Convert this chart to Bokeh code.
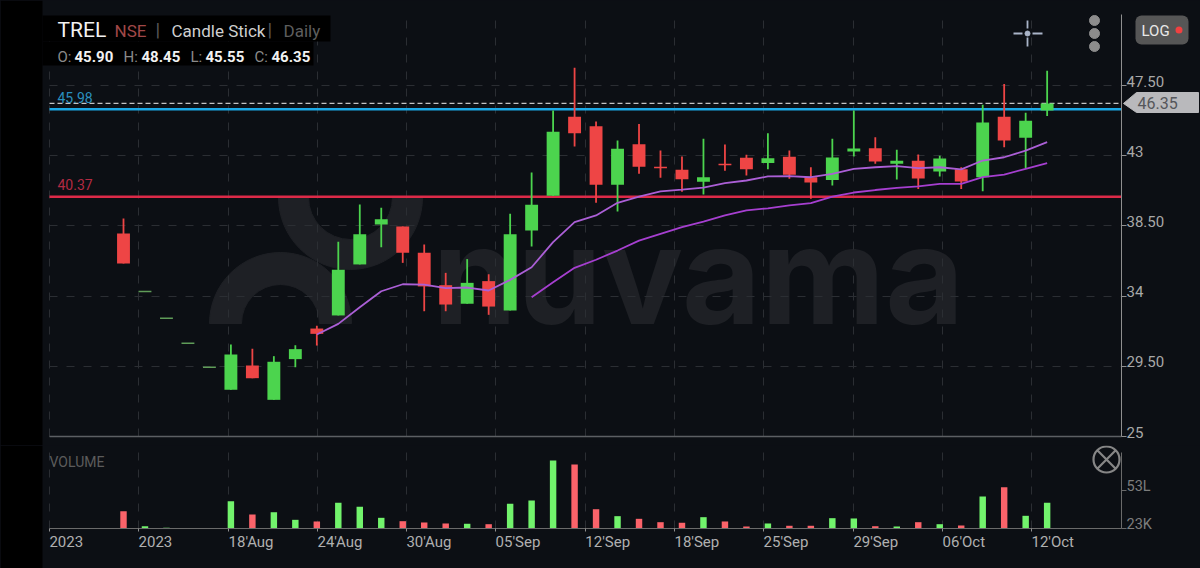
from bokeh.embed import file_html
from bokeh.layouts import column
from bokeh.models import BoxAnnotation, ColumnDataSource, FixedTicker, Label, Range1d
from bokeh.plotting import figure
from bokeh.resources import INLINE

opens = [38.01, 34.29, 32.58, 30.98, 29.44, 27.99, 29.55, 27.35, 29.96, 31.92, 32.76, 36.03, 38.59, 38.46, 36.78,
         34.70, 33.51, 34.96, 33.08, 38.21, 40.43, 45.49, 44.89, 41.13, 43.74, 42.29, 42.10, 41.33, 42.48, 42.87,
         42.54, 42.93, 41.62, 41.45, 43.27, 43.48, 42.48, 42.67, 41.99, 42.13, 41.62, 45.49, 44.15, 45.90]
highs = [38.97, 34.29, 32.58, 30.98, 29.44, 30.90, 30.62, 30.15, 30.85, 32.10, 37.48, 39.87, 39.66, 38.46, 37.31,
         35.49, 36.37, 35.40, 39.28, 41.92, 45.90, 48.63, 45.19, 43.97, 45.04, 43.33, 42.95, 44.08, 43.72, 43.06,
         44.44, 43.33, 42.26, 44.08, 45.90, 44.19, 43.38, 43.08, 42.99, 42.26, 46.26, 47.60, 45.75, 48.45]
lows = [36.09, 34.29, 32.58, 30.98, 29.44, 27.99, 28.74, 27.35, 29.44, 30.83, 32.76, 36.03, 37.13, 36.13, 33.03,
        33.03, 33.51, 32.80, 33.08, 37.18, 40.43, 43.59, 39.98, 39.42, 41.84, 41.58, 40.69, 40.51, 42.03, 41.73,
        42.13, 41.52, 40.24, 41.09, 42.95, 42.48, 41.47, 40.87, 41.67, 40.87, 40.72, 43.54, 42.21, 45.55]
closes = [36.09, 34.29, 32.58, 30.98, 29.44, 30.26, 28.74, 29.79, 30.60, 31.58, 35.69, 37.97, 38.93, 36.78, 34.62,
          33.46, 34.85, 33.33, 37.97, 39.85, 44.53, 44.44, 41.13, 43.44, 42.29, 42.20, 41.49, 41.62, 42.39, 42.13,
          42.84, 41.78, 41.28, 42.88, 43.46, 42.63, 42.67, 41.54, 42.82, 41.35, 45.13, 43.97, 45.24, 46.35]
# volume in lakhs
volumes = [24.1, 3.2, 1.0, 0, 0, 38.1, 19.5, 22.7, 12.1, 9.8, 35.8, 30.3, 14.9, 10.2, 8.4, 7.0, 6.6, 6.0, 34.5, 39.1,
           94.8, 89.3, 26.9, 17.2, 13.5, 8.8, 8.0, 15.8, 9.8, 2.8, 7.0, 3.8, 3.8, 14.4, 14.0, 3.2, 2.8, 8.8, 6.0, 4.2,
           44.6, 57.6, 17.7, 35.8]

ma_fast = [31.54, 32.22, 33.29, 34.31, 34.76, 34.74, 34.51, 34.55, 34.36, 35.04, 35.85, 37.46, 38.74, 39.17, 39.98,
           40.38, 40.71, 40.83, 40.96, 41.24, 41.41, 41.67, 41.69, 41.62, 41.84, 42.16, 42.26, 42.33, 42.20, 42.26,
           42.12, 42.69, 42.90, 43.33, 43.87]
ma_slow = [33.93, 34.89, 35.81, 36.33, 36.92, 37.56, 37.99, 38.42, 38.78, 39.17, 39.49, 39.63, 39.81, 39.96, 40.38,
           40.64, 40.80, 40.94, 41.03, 41.20, 41.20, 41.62, 41.79, 42.16, 42.52]

date_ticks = [-3.45, 0.70, 4.89, 9.03, 13.17, 17.32, 21.50, 25.65, 29.80, 33.98, 38.13, 42.27]
date_labels = ["2023", "2023", "18'Aug", "24'Aug", "30'Aug", "05'Sep", "12'Sep", "18'Sep", "25'Sep", "29'Sep",
               "06'Oct", "12'Oct"]
price_ticks = [25, 29.5, 34, 38.5, 43, 47.5]
price_labels = ["25", "29.50", "34", "38.50", "43", "47.50"]
volume_ticks = [0, 53]
volume_labels = ["23K", "53L"]
support = 40.37
resistance = 45.98
last_close = 46.35

BG = "#0c0f14"
GREEN = "#4cd44e"
RED = "#ee4545"
GRID = "#2b2e33"
FONT = "Roboto"
SPLIT = 445

days = list(range(len(closes)))


# pixel positions of the picture, for the logo and the icons only
def day_at(px):
    return (px - 123) / 21.48


def price_at(py):
    return 25 + (436 - py) / 15.6


def vol_at(py):
    return (528 - py) * 53 / 38


LEFT = day_at(49)
RIGHT = day_at(1121)
x_range = Range1d(day_at(0), day_at(1200))


def text(fig, s, x, y, size, color, style="normal", y_offset=0):
    fig.add_layout(Label(x=x, y=y, y_offset=y_offset, text=s, text_font=FONT, text_font_size=size, text_color=color,
                         text_font_style=style, text_baseline="middle", level="overlay"))


def box(fig, left, right, top, bottom, color, radius=0):
    fig.add_layout(BoxAnnotation(left=left, right=right, top=top, bottom=bottom, left_units="canvas",
                                 right_units="canvas", top_units="canvas", bottom_units="canvas", fill_color=color,
                                 fill_alpha=1, line_alpha=0, border_radius=radius, level="overlay"))


p = figure(width=1200, height=SPLIT, x_range=x_range, y_range=Range1d(price_at(SPLIT), price_at(0)), x_axis_location=None,
           y_axis_location="right", output_backend="svg", toolbar_location=None, min_border=0,
           background_fill_color=BG, border_fill_color=BG, outline_line_color=None)

# watermark
p.annular_wedge(x=[day_at(280)], y=[price_at(323)], inner_radius=39, outer_radius=71, inner_radius_units="screen",
                outer_radius_units="screen", start_angle=0, end_angle=3.1416, color="#1e2025", level="image")
p.annular_wedge(x=[day_at(350)], y=[price_at(197)], inner_radius=42, outer_radius=72, inner_radius_units="screen",
                outer_radius_units="screen", start_angle=3.1416, end_angle=6.2832, color="#1e2025", level="image")
p.add_layout(Label(x=day_at(432), y=price_at(274), text="nuvama", text_font="Inter", text_font_size="136px",
                   text_font_style="bold", text_color="#1e2025", text_baseline="alphabetic", level="image"))

p.ygrid.ticker = FixedTicker(ticks=price_ticks)
p.ygrid.grid_line_color = GRID
p.ygrid.grid_line_dash = "8 9"
p.ygrid.cross_bounds = (LEFT, RIGHT)
p.xgrid.ticker = FixedTicker(ticks=date_ticks)
p.xgrid.grid_line_color = GRID
p.xgrid.grid_line_dash = "8 9"
p.xgrid.cross_bounds = (25, price_at(14))

p.segment([LEFT], [25], [RIGHT], [25], color="#5c5f63", line_width=1.5)
p.segment([LEFT], [last_close], [RIGHT], [last_close], color="#c4c4c4", line_width=1.3, line_dash="5 3")
p.segment([LEFT], [resistance], [RIGHT], [resistance], color="#1ba9e6", line_width=2.5)
p.segment([LEFT], [support], [RIGHT], [support], color="#dd2a48", line_width=2.5)

moving = [i for i in days if opens[i] != closes[i]]
flat = [i for i in days if opens[i] == closes[i]]
source = ColumnDataSource(dict(
    x=moving,
    open=[opens[i] for i in moving],
    close=[closes[i] for i in moving],
    high=[highs[i] for i in moving],
    low=[lows[i] for i in moving],
    color=[GREEN if closes[i] > opens[i] else RED for i in moving],
))
p.segment("x", "high", "x", "low", color="color", line_width=1.8, source=source)
p.vbar(x="x", width=0.6, top="open", bottom="close", fill_color="color", line_color=None, source=source)
p.segment([i - 0.3 for i in flat], [closes[i] for i in flat], [i + 0.3 for i in flat], [closes[i] for i in flat],
          color="#5f9c58", line_width=1.5)

p.line(list(range(9, 44)), ma_fast, color="#ab5fd6", line_width=1.8)
p.line(list(range(19, 44)), ma_slow, color="#a63fd0", line_width=1.8)

# menu dots and crosshair icon
p.scatter([day_at(1094)] * 3, [price_at(20), price_at(33), price_at(46)], size=10, color="#8c8c8c")
p.segment([day_at(1013), day_at(1032), day_at(1027), day_at(1027)], [price_at(33), price_at(33), price_at(20), price_at(37)],
          [day_at(1022), day_at(1042), day_at(1027), day_at(1027)], [price_at(33), price_at(33), price_at(28), price_at(46)],
          color="#a9b4c8", line_width=1.8)
p.scatter([day_at(1027)], [price_at(33)], size=5, color="#a9b4c8")

p.yaxis.fixed_location = RIGHT
p.yaxis.bounds = (25, price_at(14))
p.yaxis.ticker = FixedTicker(ticks=price_ticks)
p.yaxis.major_label_overrides = {t: "" for t in price_ticks}
p.yaxis.axis_line_color = "#8f8f8f"
p.yaxis.major_tick_line_color = "#8f8f8f"
p.yaxis.major_tick_in = 0
p.yaxis.major_tick_out = 5
p.yaxis.minor_tick_line_color = None
for t, s in zip(price_ticks, price_labels):
    text(p, s, day_at(1126), t, "15px", "#a8a8a8", y_offset=4.5)

text(p, "45.98", day_at(57), price_at(97), "14px", "#2a8fbf")
text(p, "40.37", day_at(57), price_at(184), "14px", "#b32a42")

# left strip and header boxes
box(p, 0, 42, 0, SPLIT, "#000000")
box(p, 42, 330, 15, 41, "#000000")
box(p, 42, 313, 41, 65, "#000000")
text(p, "TREL", day_at(57), price_at(29), "21px", "#f2f2f2")
text(p, "NSE", day_at(114), price_at(30), "17px", "#a04848")
text(p, "|", day_at(155), price_at(29), "19px", "#5a5a5a")
text(p, "Candle Stick", day_at(171), price_at(30), "17px", "#cfcfcf")
text(p, "|", day_at(267), price_at(29), "19px", "#5a5a5a")
text(p, "Daily", day_at(283), price_at(30), "17px", "#5e5e5e")
for s, x, color, style in [("O:", 57, "#8a8a8a", "normal"), ("45.90", 74, "#f2f2f2", "bold"),
                           ("H:", 123, "#8a8a8a", "normal"), ("48.45", 141, "#f2f2f2", "bold"),
                           ("L:", 190, "#8a8a8a", "normal"), ("45.55", 205, "#f2f2f2", "bold"),
                           ("C:", 254, "#8a8a8a", "normal"), ("46.35", 271, "#f2f2f2", "bold")]:
    text(p, s, day_at(x), price_at(56), "15px", color, style)

# price tag and LOG button
p.patch([day_at(1123), day_at(1136), day_at(1198), day_at(1198), day_at(1136)],
        [last_close, price_at(92), price_at(92), price_at(112), price_at(112)], color="#b9b9bc")
text(p, "46.35", day_at(1137), last_close, "16px", "#55565a")
box(p, 1135, 1188, 15, 44, "#565656", radius=6)
text(p, "LOG", day_at(1141), price_at(30), "15px", "#e8e8e8")
box(p, 1175, 1182, 26, 33, "#f04040", radius=4)

pv = figure(width=1200, height=568 - SPLIT, x_range=x_range, y_range=Range1d(vol_at(568), vol_at(SPLIT)), y_axis_location="right",
            output_backend="svg", toolbar_location=None, min_border=0, background_fill_color=BG, border_fill_color=BG,
            outline_line_color=None)
pv.vbar(x=days, width=0.3, top=volumes, bottom=0, fill_color=["#72f36c" if closes[i] >= opens[i] else "#fb636a" for i in days],
        line_color=None)
pv.ygrid.visible = False
pv.xgrid.ticker = FixedTicker(ticks=date_ticks)
pv.xgrid.grid_line_color = GRID
pv.xgrid.grid_line_dash = "8 9"
pv.xgrid.cross_bounds = (0, vol_at(SPLIT))
pv.xaxis.fixed_location = 0
pv.xaxis.bounds = (LEFT, RIGHT)
pv.xaxis.ticker = FixedTicker(ticks=date_ticks)
pv.xaxis.major_label_overrides = {t: "" for t in date_ticks}
pv.xaxis.axis_line_color = "#6a6a6a"
pv.xaxis.major_tick_line_color = "#8f8f8f"
pv.xaxis.major_tick_in = 0
pv.xaxis.major_tick_out = 3
pv.xaxis.minor_tick_line_color = None
pv.yaxis.fixed_location = RIGHT
pv.yaxis.bounds = (0, vol_at(452))
pv.yaxis.ticker = FixedTicker(ticks=volume_ticks)
pv.yaxis.major_label_overrides = {t: "" for t in volume_ticks}
pv.yaxis.axis_line_color = "#6a6a6a"
pv.yaxis.major_tick_line_color = "#6a6a6a"
pv.yaxis.major_tick_in = 0
pv.yaxis.major_tick_out = 5
pv.yaxis.minor_tick_line_color = None

for t, s in zip(date_ticks, date_labels):
    text(pv, s, t, 0, "15px", "#b0b0b0", y_offset=-13)
for t, s in zip(volume_ticks, volume_labels):
    text(pv, s, day_at(1126), t, "14.5px", "#7d7d7d", y_offset=4)
text(pv, "VOLUME", LEFT, vol_at(461), "14px", "#5c5c5c")
box(pv, 0, 42, 0, 568 - SPLIT, "#000000")
pv.scatter([day_at(1106)], [vol_at(459)], marker="circle_x", size=26, fill_color=None, line_color="#868686", line_width=2.2)

root = column(p, pv, spacing=0)
root.styles = {"background-color": BG}

open("out.html", "w").write(file_html(root, INLINE))
